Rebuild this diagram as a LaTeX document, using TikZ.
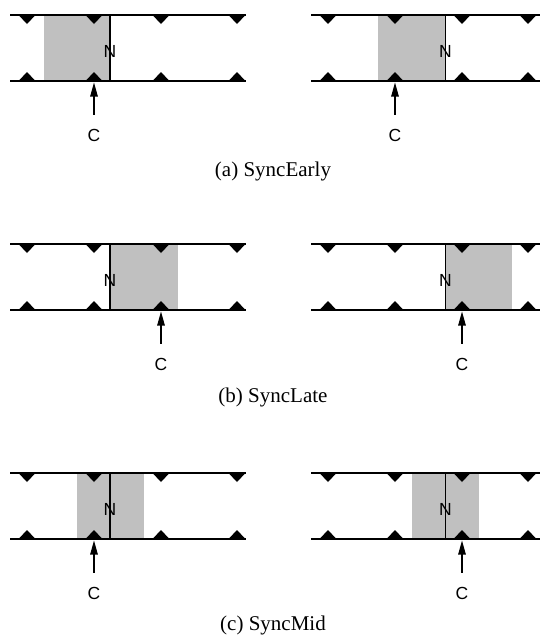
\documentclass[tikz,border=0pt]{standalone}
\usepackage{fontspec}
\setmainfont{Liberation Serif}
\newfontfamily\labfont{Liberation Sans}
\usetikzlibrary{arrows.meta}
\definecolor{shadegray}{HTML}{C0C0C0}

\begin{document}
\begin{tikzpicture}[x=1pt, y=-1pt,
    tl/.style={line width=1.1pt},
    shadebox/.style={fill=shadegray},
    lab/.style={inner sep=0pt, font=\labfont\fontsize{17.5}{21}\selectfont},
    captext/.style={inner sep=0pt, font=\fontsize{21}{25}\selectfont},
    carrow/.style={line width=1.1pt, -{Triangle[length=14pt, width=7.5pt]}, shorten <=14pt}]
      \useasboundingbox (0, 0) rectangle (540, 635);
      \foreach \i/\t/\nx/\sa/\sb/\cx in {a1/15/110/43.5/110/94, a2/15/445.5/378/445.5/395,
          b1/244/110/110/177.5/161, b2/244/445.5/445.5/512/462,
          c1/473/110/77/143.5/94, c2/473/445.5/412/479/462} {
        \fill[shadebox] (\sa, \t) rectangle (\sb, \t+66);
        \draw[tl] (\nx, \t) -- (\nx, \t+66);
        \node[lab] (N\i) at (\nx, \t+36) {N};
        \node[lab] (C\i) at (\cx, \t+120) {C};
        \coordinate (T\i) at (\cx, \t+67.5);
        \draw[carrow] (C\i) -- (T\i);
      }
      \foreach \t in {15, 244, 473} {
        \draw[tl] (10, \t) -- (246, \t) (10, \t+66) -- (246, \t+66);
        \draw[tl] (311, \t) -- (540, \t) (311, \t+66) -- (540, \t+66);
        \foreach \x in {27, 94, 161, 237, 328, 395, 462, 528}
          \fill (\x-8.5, \t) -- (\x+8.5, \t) -- (\x, \t+9) -- cycle
                (\x-8.5, \t+66) -- (\x+8.5, \t+66) -- (\x, \t+57) -- cycle;
      }
      \node[captext] (capa) at (273, 171) {(a) SyncEarly};
      \node[captext] (capb) at (273, 397) {(b) SyncLate};
      \node[captext] (capc) at (273, 625) {(c) SyncMid};
\end{tikzpicture}
\end{document}
